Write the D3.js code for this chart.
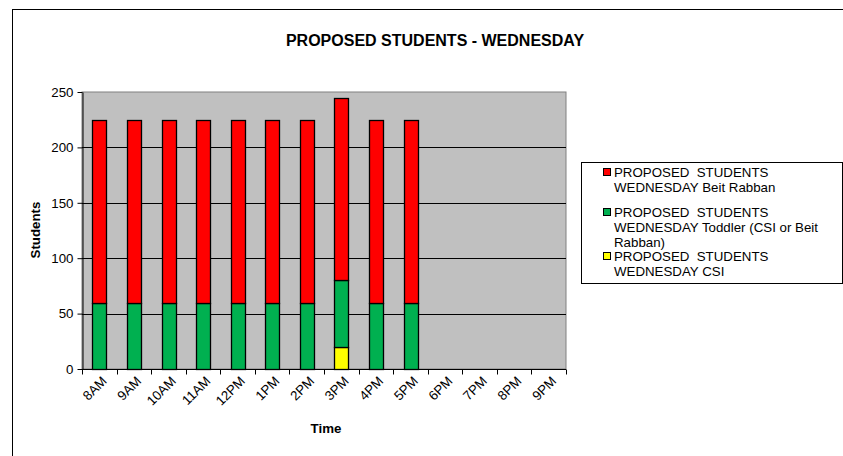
<!DOCTYPE html>
<html><head><meta charset="utf-8">
<script src="https://cdn.jsdelivr.net/npm/d3@7"></script>
<style>body{margin:0;background:#fff}svg{display:block}text{font-family:"Liberation Sans",Arial,sans-serif;white-space:pre}</style>
</head><body><svg id="c" width="843" height="456"></svg>
<script>
const categories=["8AM","9AM","10AM","11AM","12PM","1PM","2PM","3PM","4PM","5PM","6PM","7PM","8PM","9PM"];
const csi=[0,0,0,0,0,0,0,20,0,0,0,0,0,0];
const toddler=[60,60,60,60,60,60,60,60,60,60,0,0,0,0];
const beitRabban=[165,165,165,165,165,165,165,165,165,165,0,0,0,0];
const colors=["#FFFF00","#00B050","#FF0000"];
const yTicks=[0,50,100,150,200,250];

const svg=d3.select("#c");
svg.append("rect").attr("x",12.5).attr("y",9.5).attr("width",850).attr("height",460).attr("fill","#fff").attr("stroke","#000");

const L=82,R=566,T=92,B=369;
const x=d3.scaleBand().domain(categories).range([L,R]).paddingInner(0.6).paddingOuter(0.3);
const xb=d3.scaleBand().domain(categories).range([L,R]);
const y=d3.scaleLinear().domain([0,250]).range([B,T]);

svg.append("rect").attr("x",L).attr("y",T).attr("width",R-L).attr("height",B-T).attr("fill","#C0C0C0").attr("stroke","#808080");
svg.append("g").selectAll("line").data(yTicks.filter(d=>d>0&&d<250)).join("line")
 .attr("x1",L).attr("x2",R).attr("y1",d=>Math.round(y(d))+0.5).attr("y2",d=>Math.round(y(d))+0.5).attr("stroke","#000");

const data=categories.map((c,i)=>({cat:c,csi:csi[i],toddler:toddler[i],beit:beitRabban[i]}));
const stack=d3.stack().keys(["csi","toddler","beit"])(data);
svg.append("g").selectAll("g").data(stack).join("g").attr("fill",(d,i)=>colors[i])
 .selectAll("rect").data(d=>d.filter(s=>s[1]-s[0]>0)).join("rect")
 .attr("x",d=>Math.round(x(d.data.cat))+0.5).attr("width",Math.round(x.bandwidth()))
 .attr("y",d=>Math.round(y(d[1]))+0.5).attr("height",d=>Math.round(y(d[0]))-Math.round(y(d[1])))
 .attr("stroke","#000").attr("stroke-width",1.3);

// y axis
const ya=svg.append("g").attr("transform",`translate(${L+0.5},0)`);
ya.call(d3.axisLeft(y).tickValues(yTicks).tickSize(5).tickSizeOuter(0));
ya.select(".domain").attr("stroke","#000");
ya.selectAll("text").attr("font-size",13.3).attr("fill","#000").attr("dx",-1);
// x axis
const xa=svg.append("g").attr("transform",`translate(0,${B+0.5})`);
xa.append("line").attr("x1",L).attr("x2",R).attr("stroke","#000");
xa.selectAll("line.t").data(categories.concat(["_end"])).join("line").attr("class","t")
 .attr("x1",(d,i)=>Math.round(L+i*xb.bandwidth())+0.5).attr("x2",(d,i)=>Math.round(L+i*xb.bandwidth())+0.5)
 .attr("y1",0).attr("y2",5).attr("stroke","#000");
xa.selectAll("text").data(categories).join("text")
 .attr("transform",d=>`translate(${xb(d)+xb.bandwidth()/2+5},${9}) rotate(-45)`)
 .attr("text-anchor","end").attr("font-size",13.3).attr("dy","0.35em").text(d=>d);

svg.append("text").attr("x",435).attr("y",46).attr("text-anchor","middle").attr("font-weight","bold").attr("font-size",16).text("PROPOSED STUDENTS - WEDNESDAY");
svg.append("text").attr("transform","translate(40,230) rotate(-90)").attr("text-anchor","middle").attr("font-weight","bold").attr("font-size",13.3).text("Students");
svg.append("text").attr("x",326).attr("y",433).attr("text-anchor","middle").attr("font-weight","bold").attr("font-size",13.3).text("Time");

// legend
const lg=svg.append("g");
lg.append("rect").attr("x",581.5).attr("y",162.5).attr("width",261).attr("height",121).attr("fill","#fff").attr("stroke","#000");
const items=[
 {c:colors[2],lines:["PROPOSED  STUDENTS","WEDNESDAY Beit Rabban"],y:172},
 {c:colors[1],lines:["PROPOSED  STUDENTS","WEDNESDAY Toddler (CSI or Beit","Rabban)"],y:212},
 {c:colors[0],lines:["PROPOSED  STUDENTS","WEDNESDAY CSI"],y:256}
];
items.forEach(it=>{
 lg.append("rect").attr("x",603.5).attr("y",it.y-3.5).attr("width",7).attr("height",7).attr("fill",it.c).attr("stroke","#000");
 const t=lg.append("text").attr("font-size",13.3).attr("fill","#000");
 it.lines.forEach((l,j)=>t.append("tspan").attr("x",614).attr("y",it.y+j*15).attr("dy","0.35em").text(l));
});
</script></body></html>
